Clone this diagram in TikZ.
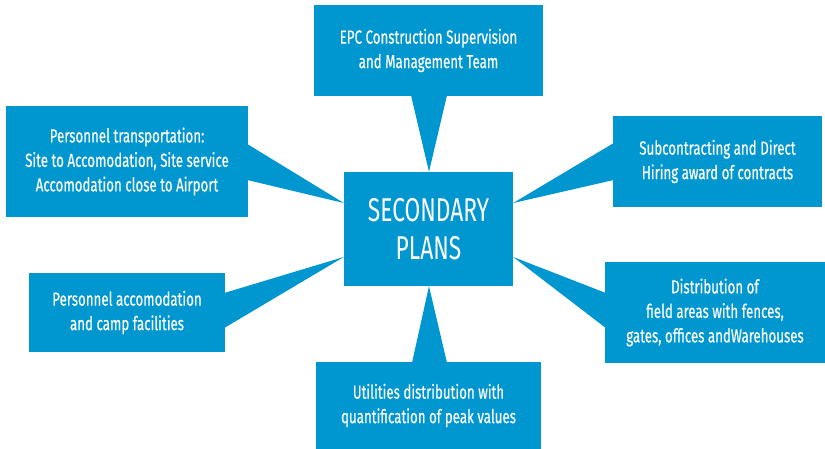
\documentclass[tikz,border=0pt]{standalone}
\usepackage{fontspec}
\setmainfont[FakeStretch=0.70,FakeBold=0.4]{Fira Sans}
\newfontfamily\bigfont[FakeStretch=0.69]{Fira Sans}
\usetikzlibrary{calc}
\definecolor{boxblue}{RGB}{0,150,208}
\tikzset{
  plan/.style={fill=boxblue, text=white, inner sep=0pt, align=center,
    font=\fontsize{19}{24.5}\selectfont},
  callout/.style={fill=boxblue}
}
\begin{document}
\begin{tikzpicture}[x=1pt,y=-1pt]
\fill[white] (0,0) rectangle (825,449);
\useasboundingbox (0,0) rectangle (825,449);
\node[plan, minimum width=169pt, minimum height=114pt, font=\bigfont\fontsize{33}{38}\selectfont] (c) at (428.5,229) {SECONDARY\\PLANS};
\node[plan, minimum width=229pt, minimum height=91pt] (tp) at (428.5,50.5) {EPC Construction Supervision\\and Management Team};
\node[plan, minimum width=242pt, minimum height=111pt] (tl) at (127,161.5) {Personnel transportation:\\Site to Accomodation, Site service\\Accomodation close to Airport};
\node[plan, minimum width=196pt, minimum height=79pt] (bl) at (127,312.5) {Personnel accomodation\\and camp facilities};
\node[plan, minimum width=209pt, minimum height=91pt] (tr) at (717.5,161.5) {Subcontracting and Direct\\Hiring award of contracts};
\node[plan, minimum width=220pt, minimum height=101pt] (br) at (715,312.5) {Distribution of\\field areas with fences,\\gates, offices andWarehouses};
\node[plan, minimum width=225pt, minimum height=87pt] (bm) at (428.5,405.5) {Utilities distribution with\\quantification of peak values};
% callout pointers
\fill[callout] ($(tp.south)+(-17.5,-1)$) -- ($(c.north)+(0.5,0)$) -- ($(tp.south)+(18.5,-1)$) -- cycle;
\fill[callout] ($(bm.north)+(-16.5,1)$) -- ($(c.south)+(0.5,0)$) -- ($(bm.north)+(18.5,1)$) -- cycle;
\fill[callout] ($(tl.east)+(-1,-17.5)$) -- ($(c.west)+(0,-26)$) -- ($(tl.east)+(-1,18.5)$) -- cycle;
\fill[callout] ($(bl.east)+(-1,-19.5)$) -- ($(c.west)+(0,28)$) -- ($(bl.east)+(-1,15.5)$) -- cycle;
\fill[callout] ($(tr.west)+(1,-18.5)$) -- ($(c.east)+(0,-26)$) -- ($(tr.west)+(1,18.5)$) -- cycle;
\fill[callout] ($(br.west)+(1,-19.5)$) -- ($(c.east)+(0,28)$) -- ($(br.west)+(1,15.5)$) -- cycle;
\end{tikzpicture}
\end{document}
